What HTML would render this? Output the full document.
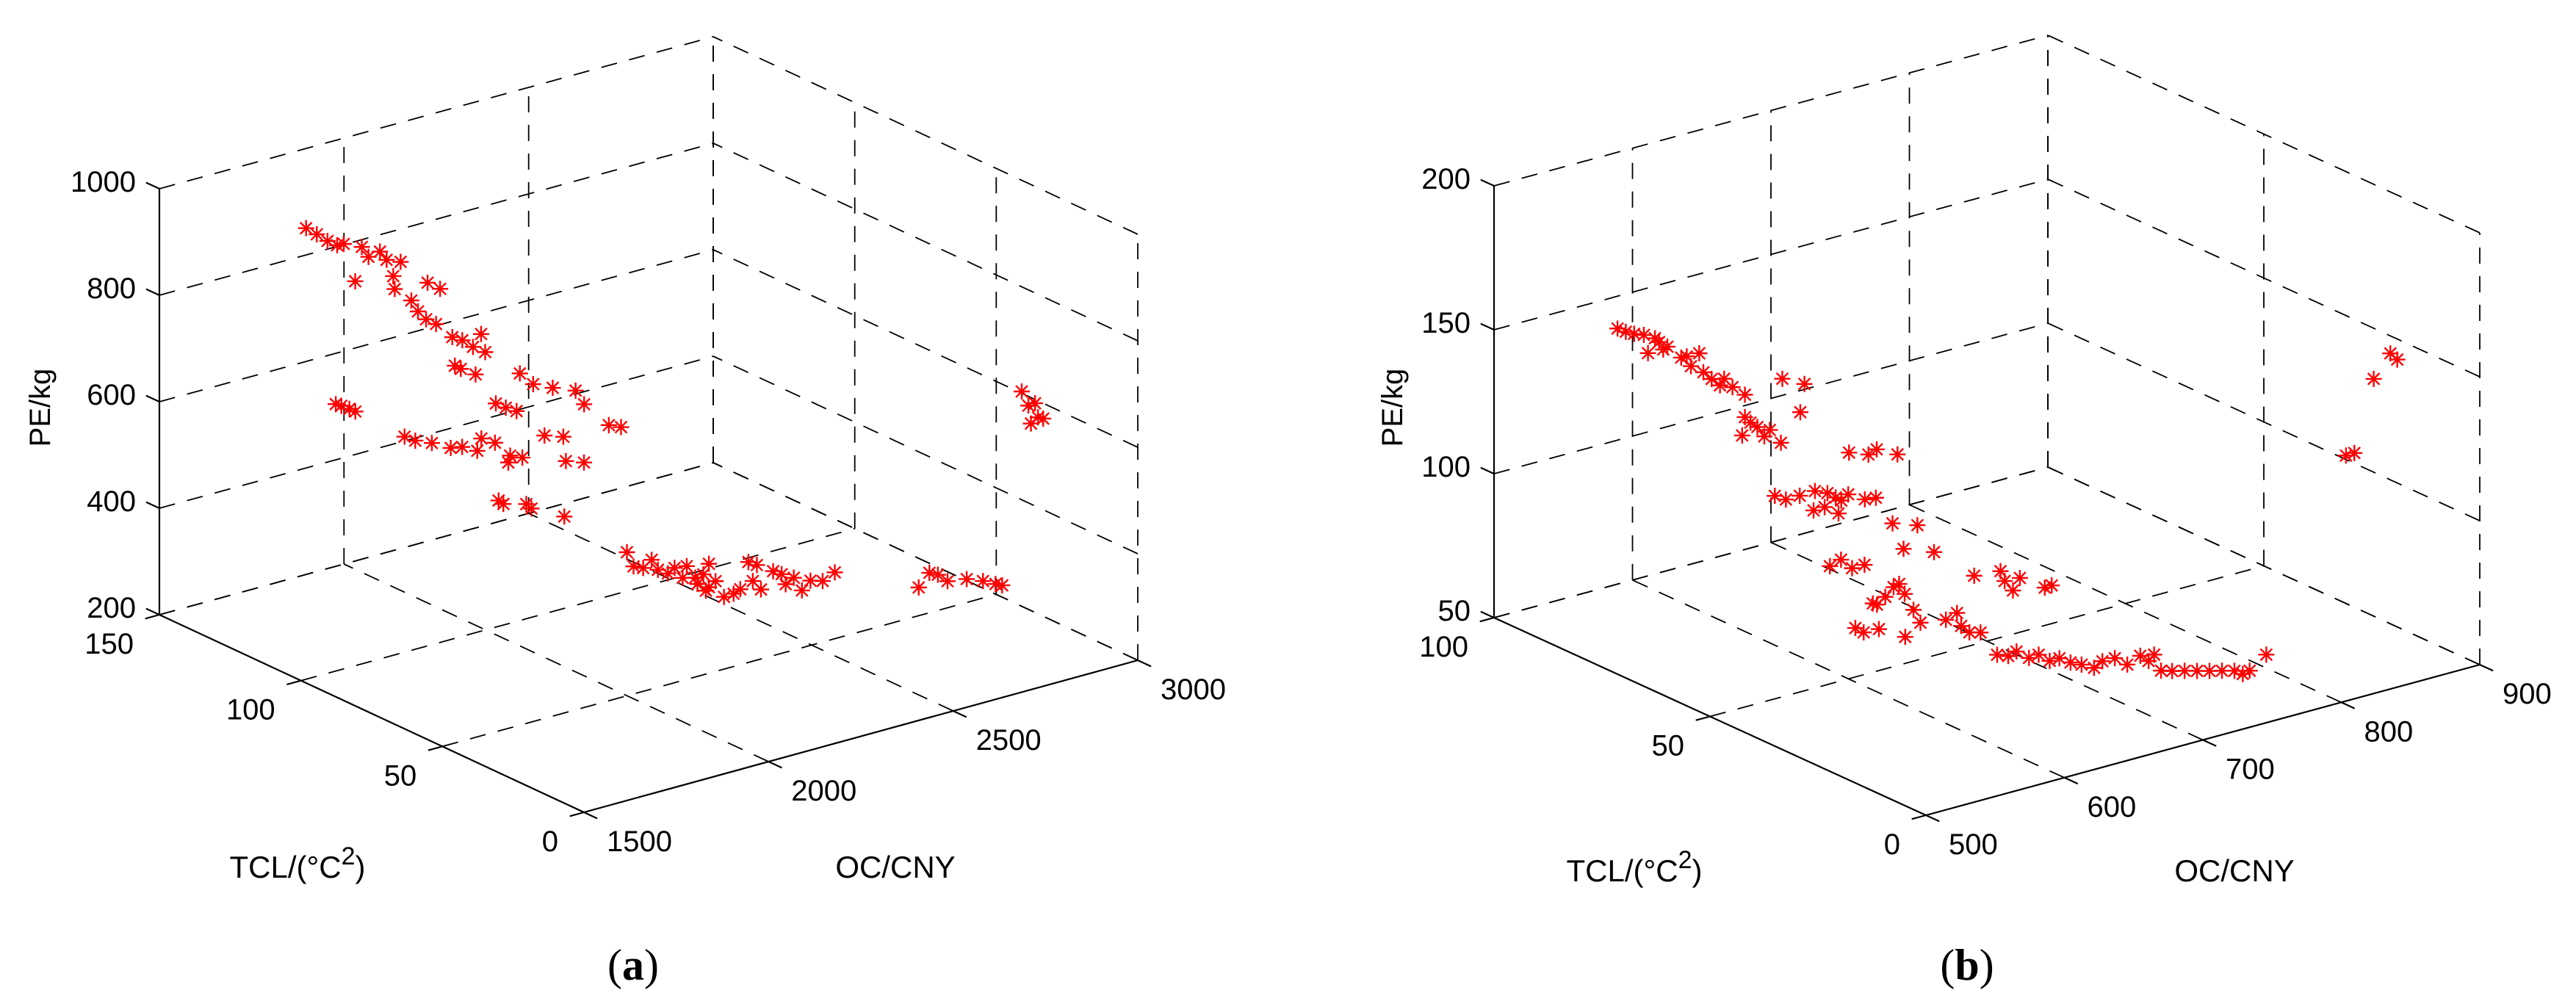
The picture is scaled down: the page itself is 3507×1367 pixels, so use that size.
<!DOCTYPE html>
<html><head><meta charset="utf-8"><title>Pareto fronts 3D scatter</title>
<style>
html,body{margin:0;padding:0;background:#fff;}
svg{display:block;}
text{font-family:"Liberation Sans",Arial,sans-serif;fill:#000;}
.cap{font-family:"Liberation Serif","Times New Roman",serif;}
</style></head>
<body>
<svg id="fig" width="3507" height="1367" viewBox="0 0 3507 1367" xmlns="http://www.w3.org/2000/svg">
<g id="chartA"></g>
<g id="chartB"></g>
<text class="cap" x="862" y="1334" font-size="60" text-anchor="middle">(<tspan font-weight="bold">a</tspan>)</text>
<text class="cap" x="2678" y="1334" font-size="60" text-anchor="middle">(<tspan font-weight="bold">b</tspan>)</text>
</svg>
<script>
// ---------- Chart (a) data ----------
const aOcTicks = [1500, 2000, 2500, 3000];
const aTclTicks = [0, 50, 100, 150];
const aPeTicks = [200, 400, 600, 800, 1000];
const aOC = [1744,1773,1802,1828,1846,1895,1913,1944,1962,2000,1877,1980,1984,2029,2047,2069,2096,2073,2107,2140,2167,2196,2218,2229,2147,2163,2203,
 1901,1916,1938,1954,
 2093,2129,2182,2244,2267,2028,2055,2084,2334,2367,
 1934,1963,2008,2059,2090,2142,2131,2179,2220,2253,2215,2313,2364,2371,2420,
 2112,2125,2187,2201,2290,
 1923,1941,1967,1990,2007,2034,2052,2085,2074,2108,2114,2130,2137,2145,2145,2163,2186,2212,2230,2252,2264,2275,2286,2319,2342,2353,2375,2397,2420,2453,2486,
 2560,2589,2612,2638,2690,2734,2768,2786,
 2724,2742,2760,2749,2768,2782];
const aTCL = [130,130,130,130,130,130,130,130,130,130,130,130,130,130,130,130,130,130,130,130,130,130,130,130,130,130,130,
 140,140,140,140,
 100,100,100,100,100,100,100,100,100,100,
 120,120,120,120,120,120,120,120,120,120,120,120,120,120,120,
 110,110,110,110,110,
 40,40,40,40,40,40,40,40,40,40,40,40,40,40,40,40,40,40,40,40,40,40,40,40,40,40,40,40,40,40,40,
 20,20,20,20,20,20,20,20,
 5,5,5,5,5,5];
const aPE = [929,912,894,881,880,865,843,847,828,817,804,794,769,739,715,696,682,764,746,649,638,620,640,604,594,585,567,
 544,538,528,520,
 664,637,620,603,573,620,607,595,521,511,
 526,513,500,481,477,483,462,468,436,426,424,456,444,397,385,
 397,388,376,365,333,
 509,479,471,482,460,448,455,452,432,426,413,428,396,445,401,409,375,376,381,428,390,418,370,398,388,367,375,347,361,354,364,
 371,393,385,368,362,350,338,332,
 745,715,716,680,688,683];

// ---------- Chart (b) data ----------
const bOcTicks = [500, 600, 700, 800, 900];
const bTclTicks = [0, 50, 100];
const bPeTicks = [50, 100, 150, 200];
const bOC = [558,564,570,577,585,588,594,580,591,604,608,617,611,620,626,632,635,641,650,650,654,648,659,664,668,676,677,693,690,
 694,708,714,729,
 656,664,674,685,694,700,709,721,729,684,692,702,704,
 663,681,671,693,722,741,744,750,755,773,778,
 649,657,665,674,680,683,689,695,699,703,
 647,652,605,611,622,641,
 608,616,619,625,633,645,653,659,668,675,683,690,698,706,715,721,730,739,
 686,692,696,701,709,718,727,736,745,754,760,765,777,
 839,851,856,819,825];
const bTCL = [90,90,90,90,90,90,90,90,90,90,90,90,90,90,90,90,90,90,90,90,90,90,90,90,90,90,90,90,90,
 80,80,80,80,
 85,85,85,85,85,85,85,85,85,85,85,85,85,
 60,60,60,60,60,60,60,60,60,60,60,
 70,70,70,70,70,70,70,70,70,70,
 50,50,50,50,50,50,
 30,30,30,30,30,30,30,30,30,30,30,30,30,30,30,30,30,30,
 10,10,10,10,10,10,10,10,10,10,10,10,10,
 5,5,5,5,5];
const bPE = [149.7,147.8,146.3,145,142.8,141.1,138.7,138.3,138.1,133.6,133.5,133.4,129.7,126.4,123.3,120.3,122.2,118.5,114.7,106.9,104.5,100.8,102.3,98.4,100.1,94.6,116.7,112.8,103.4,
 95.7,93.2,94.2,90.5,
 82.2,79.9,79.9,80.1,78.2,75.9,75.8,72.5,72,73.5,73.6,70.1,74.3,
 88.9,85.9,79,75,63,62.1,58.3,54.2,57.9,52.2,52.3,
 69,70.2,66.2,66.2,52,51.2,53.1,55.7,56.3,52.3,
 67.8,62.7,67,64.7,64.4,59.2,
 83.2,84.5,79.6,76.6,75.5,66.2,64.7,65.5,62.1,62.3,59.1,59.1,56.6,54.8,52.5,54,53.9,50.5,
 74.2,71.6,73.3,67.1,65.9,64.8,63.6,62.4,61.3,60.1,58.2,58.7,62.7,
 153.8,161.1,158.3,129.8,129.9];

const NS = "http://www.w3.org/2000/svg";
function mk(parent, tag, attrs){
  const e = document.createElementNS(NS, tag);
  for (const k in attrs) e.setAttribute(k, attrs[k]);
  parent.appendChild(e);
  return e;
}

function drawChart(g, cfg){
  const ocMin = cfg.ocTicks[0], ocMax = cfg.ocTicks[cfg.ocTicks.length-1];
  const tMin = cfg.tTicks[0], tMax = cfg.tTicks[cfg.tTicks.length-1];
  const pMin = cfg.pTicks[0], pMax = cfg.pTicks[cfg.pTicks.length-1];
  function proj(oc, t, p){
    const fo = (oc-ocMin)/(ocMax-ocMin), ft = (t-tMin)/(tMax-tMin), fp = (p-pMin)/(pMax-pMin);
    return [cfg.P0[0] + fo*cfg.vOC[0] + ft*cfg.vT[0] + fp*cfg.vP[0],
            cfg.P0[1] + fo*cfg.vOC[1] + ft*cfg.vT[1] + fp*cfg.vP[1]];
  }
  const grid = mk(g, 'g', {});
  
  
  function dash(a, b, name){
    const l = mk(grid, 'line', {x1:a[0].toFixed(1), y1:a[1].toFixed(1), x2:b[0].toFixed(1), y2:b[1].toFixed(1),
      stroke:'#000', 'stroke-width':1.8, 'stroke-dasharray':'22 17'});
    
    
  }
  cfg.pTicks.forEach(p => dash(proj(ocMin,tMax,p), proj(ocMax,tMax,p), 'pe-gridline-back-wall'));
  cfg.ocTicks.forEach((oc,i) => { if (i>0) dash(proj(oc,tMax,pMin), proj(oc,tMax,pMax), 'oc-gridline-back-wall'); });
  cfg.pTicks.forEach(p => dash(proj(ocMax,tMin,p), proj(ocMax,tMax,p), 'pe-gridline-side-wall'));
  cfg.tTicks.forEach(t => dash(proj(ocMax,t,pMin), proj(ocMax,t,pMax), 'tcl-gridline-side-wall'));
  cfg.ocTicks.forEach(oc => dash(proj(oc,tMin,pMin), proj(oc,tMax,pMin), 'oc-gridline-floor'));
  cfg.tTicks.forEach(t => dash(proj(ocMin,t,pMin), proj(ocMax,t,pMin), 'tcl-gridline-floor'));

  const axes = mk(g, 'g', {stroke:'#000', 'stroke-width':2.2, fill:'none'});
  
  
  function solid(a, b, name){
    const l = mk(axes, 'line', {x1:a[0].toFixed(1), y1:a[1].toFixed(1), x2:b[0].toFixed(1), y2:b[1].toFixed(1)});
    
    
  }
  solid(proj(ocMin,tMax,pMin), proj(ocMin,tMax,pMax), 'pe-axis');
  solid(proj(ocMin,tMax,pMin), proj(ocMin,tMin,pMin), 'tcl-axis');
  solid(proj(ocMin,tMin,pMin), proj(ocMax,tMin,pMin), 'oc-axis');
  const tl = 20;
  const nT = Math.hypot(cfg.vT[0],cfg.vT[1]), nO = Math.hypot(cfg.vOC[0],cfg.vOC[1]);
  const uT = [cfg.vT[0]/nT*tl, cfg.vT[1]/nT*tl], uO = [cfg.vOC[0]/nO*tl, cfg.vOC[1]/nO*tl];

  const labels = mk(g, 'g', {'font-size':40});
  
  
  function label(x, y, s, anchor, name){
    const t = mk(labels, 'text', {x:x.toFixed(1), y:y.toFixed(1), 'text-anchor':anchor});
    t.textContent = s;
    
    
  }
  cfg.pTicks.forEach(p => {
    const a = proj(ocMin,tMax,p);
    solid(a, [a[0]+uT[0], a[1]+uT[1]], 'pe-tick');
    label(a[0]-32, a[1]+4, String(p), 'end', 'pe-tick-label');
  });
  cfg.tTicks.forEach(t => {
    const a = proj(ocMin,t,pMin);
    solid(a, [a[0]-uO[0], a[1]-uO[1]], 'tcl-tick');
    label(a[0]-35, a[1]+53, String(t), 'end', 'tcl-tick-label');
  });
  cfg.ocTicks.forEach(oc => {
    const a = proj(oc,tMin,pMin);
    solid(a, [a[0]-uT[0], a[1]-uT[1]], 'oc-tick');
    label(a[0]+31, a[1]+53, String(oc), 'start', 'oc-tick-label');
  });

  const pe = mk(g, 'text', {x:0, y:0, 'font-size':40, 'text-anchor':'middle',
    transform:'translate(' + cfg.peTitle[0] + ',' + cfg.peTitle[1] + ') rotate(-90)'});
  pe.textContent = 'PE/kg';
  
  
  const tc = mk(g, 'text', {x:cfg.tclTitle[0], y:cfg.tclTitle[1], 'font-size':42, 'text-anchor':'middle'});
  tc.innerHTML = 'TCL/(\u00B0C<tspan dy="-18" font-size="34">2</tspan><tspan dy="18">)</tspan>';
  
  
  const oct = mk(g, 'text', {x:cfg.ocTitle[0], y:cfg.ocTitle[1], 'font-size':42, 'text-anchor':'middle'});
  oct.textContent = 'OC/CNY';
  
  

  const pts = mk(g, 'g', {stroke:'#ff0000', 'stroke-width':2.4, fill:'none'});
  
  
  const r = 11, d = r*0.72;
  for (let i = 0; i < cfg.oc.length; i++){
    const c = proj(cfg.oc[i], cfg.tcl[i], cfg.pe[i]);
    const cx = c[0], cy = c[1];
    const m = mk(pts, 'path', {d:'M'+(cx-r)+' '+cy+'H'+(cx+r)+'M'+cx+' '+(cy-r)+'V'+(cy+r)+
      'M'+(cx-d)+' '+(cy-d)+'L'+(cx+d)+' '+(cy+d)+'M'+(cx-d)+' '+(cy+d)+'L'+(cx+d)+' '+(cy-d)});
    
    
  }
}

drawChart(document.getElementById('chartA'), {
  ocTicks:aOcTicks, tTicks:aTclTicks, pTicks:aPeTicks, oc:aOC, tcl:aTCL, pe:aPE,
  P0:[795,1106], vOC:[754,-207], vT:[-578,-269], vP:[0,-580],
  peTitle:[68,555], tclTitle:[405,1195], ocTitle:[1219,1195]
});
drawChart(document.getElementById('chartB'), {
  ocTicks:bOcTicks, tTicks:bTclTicks, pTicks:bPeTicks, oc:bOC, tcl:bTCL, pe:bPE,
  P0:[2622,1110], vOC:[754,-205], vT:[-588,-269], vP:[0,-588],
  peTitle:[1909,555], tclTitle:[2225,1200], ocTitle:[3042,1200]
});
</script>
</body></html>
